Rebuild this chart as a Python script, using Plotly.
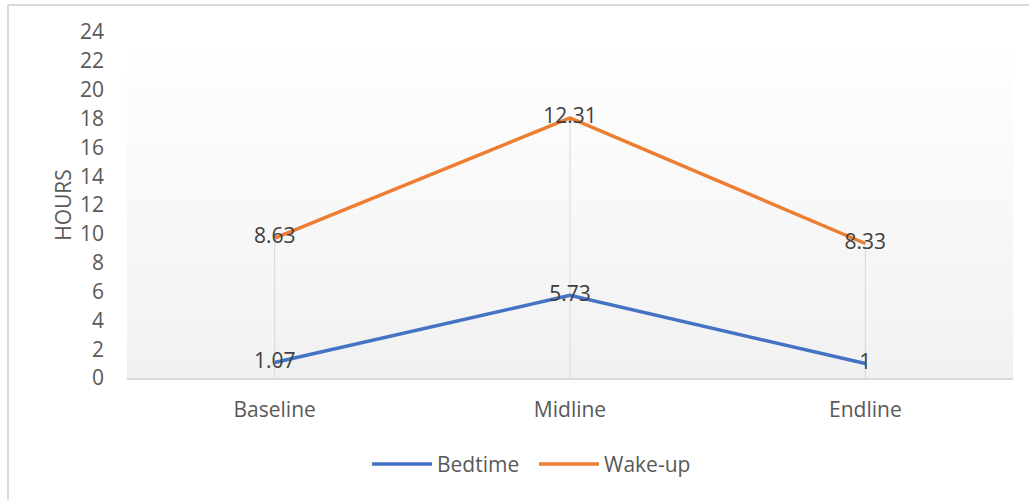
import numpy as np
import plotly.graph_objects as go

categories = ["Baseline", "Midline", "Endline"]
bedtime = [1.07, 5.73, 1]
wakeup = [8.63, 12.31, 8.33]
y_ticks = list(range(0, 25, 2))

bed = np.array(bedtime)
wake_top = bed + np.array(wakeup)  # stacked line

FONT = "Open Sans"
TXT = "#595959"
FS = 21
W, H = 1029, 500
ML, MR, MT, MB = 127, 16, 32, 122
PW, PH = W - ML - MR, H - MT - MB

fig = go.Figure()

# drop lines
for c, top in zip(categories, wake_top):
    fig.add_trace(go.Scatter(x=[c, c], y=[0, top], mode="lines",
                             line=dict(color="#d9d9d9", width=1),
                             showlegend=False, hoverinfo="skip"))

fig.add_trace(go.Scatter(x=categories, y=bed, mode="lines+text", name="Bedtime",
                         line=dict(color="#4472C4", width=3.5),
                         text=[f"{v:g}" for v in bedtime], textposition="middle center",
                         textfont=dict(size=FS, color="#404040", family=FONT)))
fig.add_trace(go.Scatter(x=categories, y=wake_top, mode="lines+text", name="Wake-up",
                         line=dict(color="#ED7D31", width=3.5),
                         text=[f"{v:g}" for v in wakeup], textposition="middle center",
                         textfont=dict(size=FS, color="#404040", family=FONT)))

# gradient background of plot area
n = 40
shapes = []
for i in range(n):
    t = i / (n - 1)
    g = int(round(255 - t * 14))
    shapes.append(dict(type="rect", xref="x domain", yref="y domain",
                       x0=0, x1=1, y0=1 - (i + 1) / n, y1=1 - i / n,
                       fillcolor=f"rgb({g},{g},{g})", line=dict(width=0), layer="below"))
# outer frame (left and top edges visible)
fx0 = (8 - ML) / PW
fy1 = (H - 5 - MB) / PH
shapes.append(dict(type="line", xref="paper", yref="paper", x0=fx0, x1=fx0,
                   y0=-0.5, y1=fy1, line=dict(color="#d9d9d9", width=2)))
shapes.append(dict(type="line", xref="paper", yref="paper", x0=fx0, x1=1.2,
                   y0=fy1, y1=fy1, line=dict(color="#d9d9d9", width=2)))

fig.update_layout(
    width=W, height=H,
    margin=dict(l=ML, r=MR, t=MT, b=MB),
    paper_bgcolor="white", plot_bgcolor="white",
    font=dict(family=FONT, size=FS, color=TXT),
    shapes=shapes,
    showlegend=True,
    legend=dict(orientation="h", x=(367 - ML) / PW, xanchor="left", y=-0.19, yanchor="top",
                font=dict(size=FS, color=TXT), itemwidth=60,
                entrywidth=92, entrywidthmode="pixels"),
    xaxis=dict(type="category", range=[-0.5, 2.5], showgrid=False,
               showline=True, linecolor="#d9d9d9", linewidth=1.5,
               ticks="", tickfont=dict(size=FS, color=TXT), ticklabelstandoff=12),
    yaxis=dict(range=[0, 24], tickvals=y_ticks, showgrid=False, zeroline=False,
               showline=False, ticks="", tickfont=dict(size=FS, color=TXT),
               ticklabelstandoff=22,
               title=dict(text="HOURS", font=dict(size=FS, color=TXT), standoff=2)),
)

fig.write_html("out.html")
